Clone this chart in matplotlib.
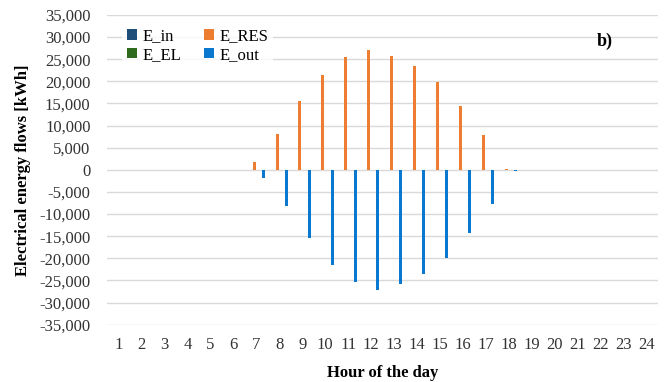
import matplotlib.pyplot as plt
import numpy as np

hours = list(range(1, 25))
e_in = [0] * 24
e_res = [0, 0, 0, 0, 0, 0, 1800, 8200, 15450, 21450, 25400, 27170,
         25750, 23560, 19950, 14380, 7830, 200, 0, 0, 0, 0, 0, 0]
e_el = [0] * 24
e_out = [0, 0, 0, 0, 0, 0, -1850, -8150, -15420, -21450, -25450, -27100,
         -25750, -23560, -19950, -14380, -7830, -200, 0, 0, 0, 0, 0, 0]

series = [("E_in", e_in, "#1F4E79"),
          ("E_RES", e_res, "#ED7D31"),
          ("E_EL", e_el, "#2E6B1F"),
          ("E_out", e_out, "#0A78CF")]

plt.rcParams['font.family'] = ['Liberation Serif', 'DejaVu Serif']

fig = plt.figure(figsize=(6.7, 3.82), dpi=100)
ax = fig.add_axes([0.16, 0.15, 0.822, 0.811])

x = np.arange(len(hours))
step = 0.2
handles = {}
for i, (name, vals, col) in enumerate(series):
    off = (i - 1.5) * step
    handles[name] = ax.bar(x + off, vals, width=0.13, color=col, label=name)

ax.set_xlim(-0.5, 23.5)
ax.set_ylim(-35000, 35000)
ax.set_yticks(np.arange(-35000, 35001, 5000))
ax.yaxis.set_major_formatter(plt.FuncFormatter(lambda v, p: f"{int(v):,}"))
ax.set_xticks(x)
ax.set_xticklabels([str(h) for h in hours])
ax.tick_params(axis='both', length=0, labelsize=12, colors='#333333')
ax.tick_params(axis='x', pad=9)
ax.tick_params(axis='y', pad=12)
ax.grid(axis='y', color='#D9D9D9', linewidth=1)
ax.set_axisbelow(True)
for s in ax.spines.values():
    s.set_visible(False)

ax.set_ylabel("Electrical energy flows [kWh]", fontsize=12, fontweight='bold', labelpad=6)
ax.set_xlabel("Hour of the day", fontsize=12, fontweight='bold')
ax.xaxis.set_label_coords(0.5, -0.13)

order = ["E_in", "E_EL", "E_RES", "E_out"]
leg = ax.legend([handles[n] for n in order], order, ncol=2, loc='upper left',
                bbox_to_anchor=(0.012, 1.0), frameon=True, fontsize=12,
                handlelength=0.6, handleheight=0.6, handletextpad=0.3,
                columnspacing=1.4, labelspacing=0.15, borderpad=0.3,
                fancybox=False)
leg.get_frame().set_facecolor('white')
leg.get_frame().set_edgecolor('none')

ax.text(0.888, 0.90, "b)", transform=ax.transAxes, fontsize=13, fontweight='bold')

fig.savefig("out.png", dpi=100)
